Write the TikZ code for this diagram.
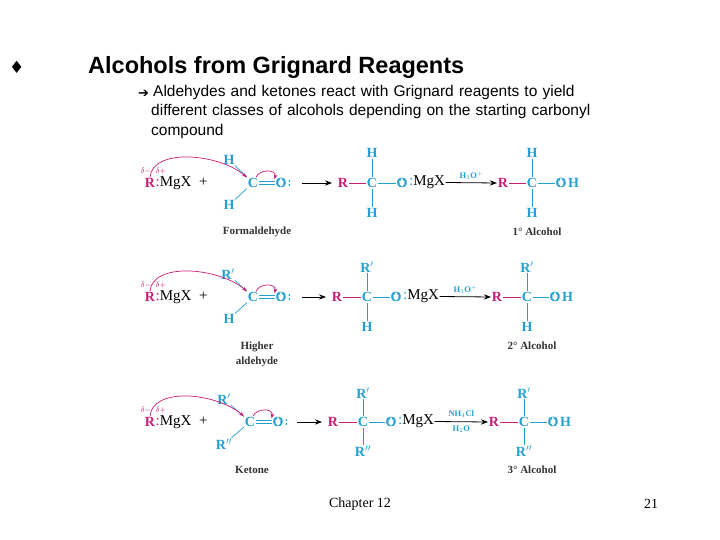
\documentclass[tikz,border=0pt]{standalone}
\usepackage{fontspec}
\setmainfont{Liberation Serif}
\newfontfamily\arial{Liberation Sans}
\newfontfamily\dejavu{DejaVu Sans}
\usetikzlibrary{arrows.meta}
\definecolor{mag}{RGB}{200,30,120}
\definecolor{cy}{RGB}{35,160,210}
\tikzset{
 ch/.style={inner sep=0.8pt,font=\bfseries\fontsize{14}{15}\selectfont,text=cy},
 chm/.style={inner sep=0.8pt,font=\bfseries\fontsize{14}{15}\selectfont,text=mag},
 blk/.style={inner sep=0.5pt,font=\fontsize{15}{16}\selectfont},
 lbl/.style={inner sep=0.5pt,font=\bfseries\fontsize{11}{15}\selectfont,text=black!80,align=center},
 sm/.style={inner sep=0.5pt,font=\bfseries\fontsize{8.5}{9}\selectfont,text=cy},
 dl/.style={inner sep=0.5pt,font=\fontsize{8.5}{9}\selectfont,text=mag},
 bond/.style={cy,line width=0.7pt},
 mbond/.style={mag,line width=0.7pt},
 rarr/.style={-{Stealth[length=7pt]},line width=0.8pt},
 curv/.style={mag,-{Stealth[length=5pt]},line width=0.7pt},
}
\newcommand{\dotsab}[1]{%
 \fill[cy] ([xshift=-1.8pt,yshift=-2.5pt]#1.north) circle (1pt) ([xshift=1.8pt,yshift=-2.5pt]#1.north) circle (1pt)
   ([xshift=-1.8pt,yshift=2.5pt]#1.south) circle (1pt) ([xshift=1.8pt,yshift=2.5pt]#1.south) circle (1pt);}
\begin{document}
\begin{tikzpicture}[x=1pt,y=-1pt]
\useasboundingbox (0,0) rectangle (720,540);
\fill[white] (0,0) rectangle (720,540);
% title
\node[anchor=west,inner sep=0,font=\dejavu\fontsize{17}{18}\selectfont] (bul) at (9,67) {♦};
\node[anchor=west,inner sep=0,font=\arial\bfseries\fontsize{23.5}{26}\selectfont] (title) at (88,67) {Alcohols from Grignard Reagents};
\node[anchor=west,inner sep=0,font=\dejavu\fontsize{13}{14}\selectfont] (arr) at (138,94) {➔};
\node[anchor=north west,inner sep=0,align=left,font=\arial\fontsize{15.5}{19.3}\selectfont,text width=540pt] (txt) at (151,85)
 {\hspace*{2pt}Aldehydes and ketones react with Grignard reagents to yield\\different classes of alcohols depending on the starting carbonyl\\compound};
% footer
\node[font=\fontsize{14}{15}\selectfont,inner sep=0] (ch) at (360,504) {Chapter 12};
\node[font=\fontsize{14}{15}\selectfont,inner sep=0] (pg) at (651,504) {21};

\newcommand{\reagent}[7]{% y, top, bottom, xC, xO, topx, botx
 \node[dl] at (146,#1-12) {$\delta-$};
 \node[dl] at (161,#1-12) {$\delta+$};
 \node[chm] (R#1) at (150,#1) {R};
 \node[blk,anchor=west] (mg#1) at (155,#1+0.5) {\textcolor{mag}{:}MgX\ \ +};
 \node[ch] (t#1) at (#6,#1-23) {#2};
 \node[ch] (b#1) at (#7,#1+22) {#3};
 \node[ch] (C#1) at (#4,#1) {C};
 \node[ch] (O#1) at (#5,#1) {O};
 \dotsab{O#1}
 \fill[cy] ([xshift=2pt,yshift=-2pt]O#1.east) circle (1pt) ([xshift=2pt,yshift=2pt]O#1.east) circle (1pt);
 \draw[bond] (t#1) -- (C#1); \draw[bond] (b#1) -- (C#1);
 \draw[bond] ([yshift=1.5pt]C#1.east) -- ([yshift=1.5pt]O#1.west);
 \draw[bond] ([yshift=-1.5pt]C#1.east) -- ([yshift=-1.5pt]O#1.west);
 \draw[curv] (R#1.north) .. controls (152,#1-35) and (#4-35,#1-30) .. (C#1.north west);
 \draw[curv] ([xshift=-3pt]C#1.north east) .. controls (#4+6,#1-14) and (#5-4,#1-14) .. ([yshift=-2pt]O#1.north west);
}
\newcommand{\product}[9]{% y, xR, xC, xO, top, bottom, suffix, tag, ytop
 \node[chm] (pr#8) at (#2,#1) {R};
 \node[ch] (pc#8) at (#3,#1) {C};
 \node[ch] (po#8) at (#4,#1) {O};
 \dotsab{po#8}
 \node[ch] (pt#8) at (#3,#9) {#5};
 \node[ch] (pb#8) at (#3,2*#1-#9) {#6};
 \draw[mbond] (pr#8) -- (pc#8);
 \draw[bond] (pc#8) -- (po#8);
 \draw[bond] (pt#8) -- (pc#8); \draw[bond] (pb#8) -- (pc#8);
 \node[anchor=west,inner sep=0.5pt] (ps#8) at ([yshift=0.5pt]po#8.east) {#7};
}
\newcommand{\mgx}{\fontsize{15}{16}\selectfont\textcolor{cy}{:}MgX}
\newcommand{\hh}{\textcolor{cy}{\bfseries\fontsize{14}{15}\selectfont H}}
% ---------- row 1 ----------
\reagent{183}{H}{H}{253}{281}{229}{229}
\product{183}{343}{372}{402}{H}{H}{\mgx}{a}{153}
\product{183}{503}{532}{561}{H}{H}{\hh}{b}{153}
\draw[rarr] (302,183) -- (332,183);
\draw[rarr] (psa.east) -- (prb.west) node[midway,above=2pt,sm] {H$_3$O$^+$};
\node[lbl] (l1) at (257,232) {Formaldehyde};
\node[lbl] (l2) at (537,232) {1° Alcohol};
% ---------- row 2 ----------
\reagent{297}{R$'$}{H}{253}{281}{228}{229}
\product{297}{337}{367}{396}{R$'$}{H}{\mgx}{c}{267}
\product{297}{497}{527}{555}{R$'$}{H}{\hh}{d}{267}
\draw[rarr] (302,297) -- (326,297);
\draw[rarr] (psc.east) -- (prd.west) node[midway,above=2pt,sm] {H$_3$O$^+$};
\node[lbl] (l3) at (257,354) {Higher\\aldehyde};
\node[lbl] (l4) at (532,346) {2° Alcohol};
% ---------- row 3 ----------
\reagent{422}{R$'$}{R$''$}{250}{278}{224}{224}
\product{422}{333}{363}{391}{R$'$}{R$''$}{\mgx}{e}{393}
\product{422}{494}{524}{553}{R$'$}{R$''$}{\hh}{f}{393}
\draw[rarr] (297,422) -- (322,422);
\draw[rarr] (pse.east) -- (prf.west) node[midway,above=3pt,sm] {NH$_4$Cl} node[midway,below=3pt,sm] {H$_2$O};
\node[lbl] (l5) at (252,470) {Ketone};
\node[lbl] (l6) at (532,470) {3° Alcohol};
\end{tikzpicture}
\end{document}
